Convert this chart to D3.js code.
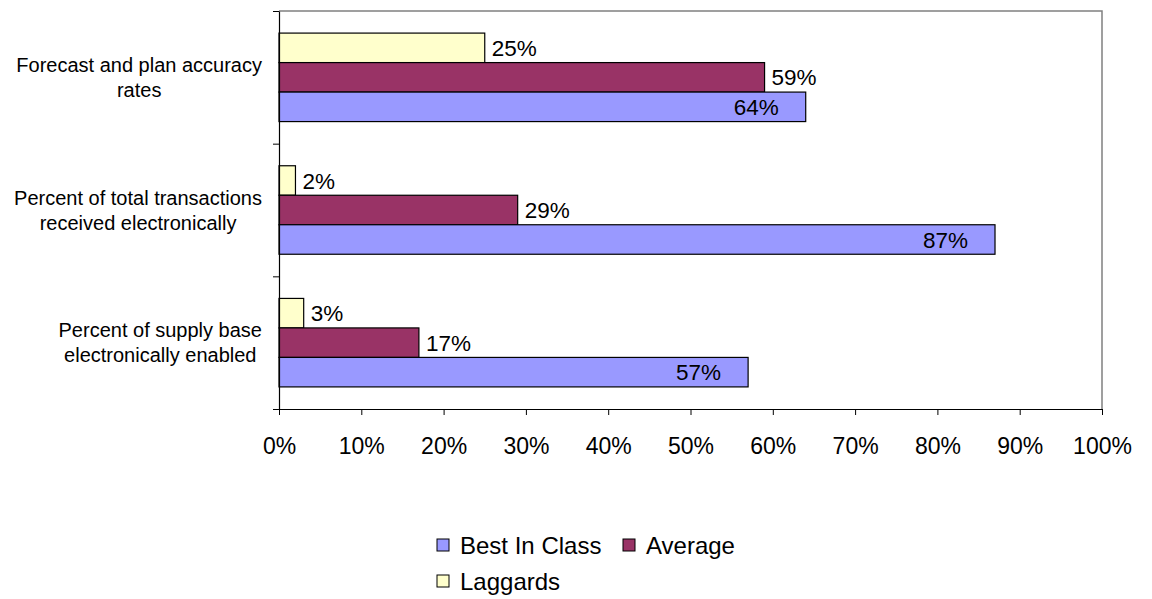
<!DOCTYPE html>
<html><head><meta charset="utf-8">
<script src="https://cdn.jsdelivr.net/npm/d3@7"></script>
<style>body{margin:0;background:#fff}svg{display:block;font-family:Arial,"Liberation Sans",sans-serif}</style>
</head><body><svg id="c" width="1152" height="599"></svg>
<script>
const categories = [
  ["Forecast and plan accuracy", "rates"],
  ["Percent of total transactions", "received electronically"],
  ["Percent of supply base", "electronically enabled"]
];
const seriesNames = ["Laggards", "Average", "Best In Class"];
const laggards = [25, 2, 3];
const average = [59, 29, 17];
const bestInClass = [64, 87, 57];
const colors = {"Best In Class": "#9999FF", "Average": "#993366", "Laggards": "#FFFFCC"};
const ticks = [0,10,20,30,40,50,60,70,80,90,100];
const legendOrder = ["Best In Class", "Average", "Laggards"];

const values = {"Laggards": laggards, "Average": average, "Best In Class": bestInClass};
const svg = d3.select("#c");
const L = 279, R = 1102, T = 11, B = 409;
const x = d3.scaleLinear().domain([0, 100]).range([L, R]);
const y = d3.scaleBand().domain(d3.range(categories.length)).range([T, B]).paddingInner(0.333).paddingOuter(0.1665);
const ys = d3.scaleBand().domain(seriesNames).range([0, y.bandwidth()]);

// frame
svg.append("path").attr("d", `M${L},${T}H${R}V${B}`).attr("fill","none").attr("stroke","#808080").attr("stroke-width",1.5);

// bars
categories.forEach((c, i) => {
  seriesNames.forEach(s => {
    const v = values[s][i];
    const y0 = y(i) + ys(s);
    svg.append("rect").attr("x", x(0)).attr("y", y0).attr("width", x(v) - x(0)).attr("height", ys.bandwidth())
      .attr("fill", colors[s]).attr("stroke", "#000").attr("stroke-width", 1.2);
    const inside = s === "Best In Class";
    svg.append("text").attr("x", inside ? x(v) - 27 : x(v) + 7).attr("y", y0 + ys.bandwidth()/2)
      .attr("dy","0.36em").attr("text-anchor", inside ? "end" : "start")
      .attr("font-size", 22.5).attr("fill","#000").text(v + "%");
  });
});

// axes
const xa = svg.append("g").attr("transform", `translate(0,${B})`)
  .call(d3.axisBottom(x).tickValues(ticks).tickFormat(d => d + "%").tickSize(6).tickSizeOuter(0));
xa.attr("font-family",null).attr("font-size",null);
xa.select(".domain").attr("stroke","#000").attr("stroke-width",1.2);
xa.selectAll(".tick line").attr("stroke","#000");
xa.selectAll("text").attr("font-size",23).attr("fill","#000").attr("dy",null).attr("y",45);

const yTick = d3.scaleLinear().domain([0, categories.length]).range([T, B]);
const ya = svg.append("g").attr("transform", `translate(${L},0)`)
  .call(d3.axisLeft(yTick).tickValues(d3.range(categories.length + 1)).tickFormat("").tickSize(6).tickSizeOuter(0));
ya.select(".domain").attr("stroke","#000").attr("stroke-width",1.2);
ya.selectAll(".tick line").attr("stroke","#000");

// category labels
categories.forEach((lines, i) => {
  const g = svg.append("text").attr("font-size", 20).attr("fill","#000").attr("text-anchor","middle");
  const cy = y(i) + y.bandwidth()/2;
  const spans = lines.map((t, j) => g.append("tspan").attr("x", 0)
    .attr("y", cy + (j - (lines.length-1)/2) * 25).attr("dy","0.35em").text(t));
  const w = d3.max(spans, sp => sp.node().getComputedTextLength());
  spans.forEach(sp => sp.attr("x", 262 - w/2));
});

// legend
const legPos = [[437, 545], [623, 545], [437, 581]];
legendOrder.forEach((s, k) => {
  const [lx, ly] = legPos[k];
  svg.append("rect").attr("x", lx).attr("y", ly - 6).attr("width", 12).attr("height", 12)
    .attr("fill", colors[s]).attr("stroke","#000").attr("stroke-width",1);
  svg.append("text").attr("x", lx + 23).attr("y", ly).attr("dy","0.36em").attr("font-size", 24).attr("fill","#000").text(s);
});
</script></body></html>
